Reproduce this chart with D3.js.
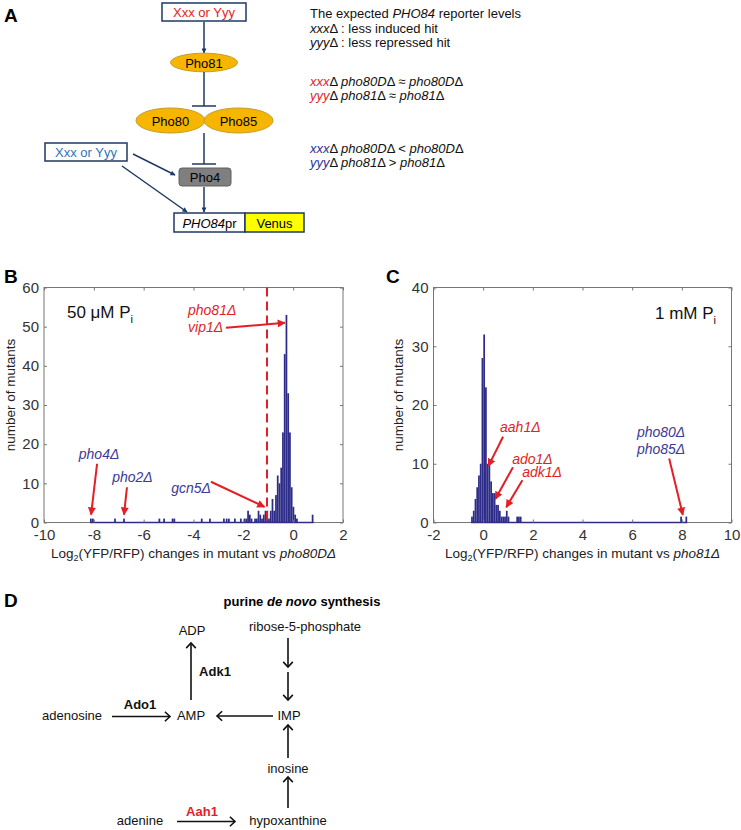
<!DOCTYPE html>
<html>
<head>
<meta charset="utf-8">
<script src="https://cdn.jsdelivr.net/npm/d3@7"></script>
<style>
  body { margin: 0; background: #fff; }
  text { font-family: "Liberation Sans", Arial, sans-serif; }
</style>
</head>
<body>
<script>
// ---- histogram data ----
let binW = 0.07;

// B: 50 uM Pi, log2 change vs pho80D
let bCenters = [-8.12, -8.04, -7.15, -6.79, -5.37, -5.18, -4.84, -4.77, -3.67, -3.34,
  -2.78, -2.67, -2.58, -2.34, -2.10, -1.95, -1.88, -1.81, -1.74, -1.67,
  -1.53, -1.46, -1.39, -1.32, -1.25, -1.18, -1.11, -1.04, -0.97, -0.90,
  -0.83, -0.76, -0.69, -0.62, -0.55, -0.48, -0.41, -0.34, -0.27, -0.20,
  -0.13, -0.06, 0.01, 0.08, 0.15, 0.78];
let bCounts = [1, 1, 1, 1, 1, 1, 1, 1, 1, 1,
  1, 1, 1, 1, 1, 1, 1, 3, 2, 1,
  1, 1, 3, 2, 1, 2, 3, 3, 1, 3,
  6, 3, 7, 12, 10, 14, 23, 43, 53, 33,
  23, 9, 4, 2, 1, 2];

// C: 1 mM Pi, log2 change vs pho81
let cCenters = [-0.45, -0.38, -0.31, -0.24, -0.17, -0.10, -0.03, 0.04, 0.11, 0.18,
  0.25, 0.32, 0.39, 0.46, 0.53, 0.60, 0.67, 0.74, 0.81, 0.88,
  0.95, 1.02, 1.37, 1.44, 1.51, 7.97, 8.18];
let cCounts = [1, 2, 4, 6, 8, 10, 28, 32, 23, 10,
  10, 7, 5, 5, 3, 3, 2, 1, 1, 1,
  2, 1, 1, 1, 1, 1, 1];

let bXTicks = [-10, -8, -6, -4, -2, 0, 2];
let bYTicks = [0, 10, 20, 30, 40, 50, 60];
let cXTicks = [-2, 0, 2, 4, 6, 8, 10];
let cYTicks = [0, 10, 20, 30, 40];
let cutoffB = -1.05;

// annotations: label lines, text position, arrow from -> to, in data units
let bNotes = [
  {lines: ["pho4Δ"], anchor: "middle", tx: -7.79, ty: 16.3, a: [-7.87, 15.0, -8.11, 2.0], color: "blue"},
  {lines: ["pho2Δ"], anchor: "middle", tx: -6.45, ty: 10.4, a: [-6.67, 9.0, -6.79, 2.0], color: "blue"},
  {lines: ["gcn5Δ"], anchor: "middle", tx: -4.10, ty: 7.6, a: [-3.30, 10.4, -1.15, 4.0], color: "blue"},
  {lines: ["pho81Δ", "vip1Δ"], anchor: "start", tx: -4.22, ty: 53.0, a: [-2.70, 49.7, -0.33, 51.0], color: "red"}
];
let cNotes = [
  {lines: ["aah1Δ"], anchor: "start", tx: 0.68, ty: 15.4, a: [0.80, 14.6, 0.21, 9.6], color: "red"},
  {lines: ["ado1Δ"], anchor: "start", tx: 1.17, ty: 10.0, a: [1.20, 9.4, 0.49, 4.0], color: "red"},
  {lines: ["adk1Δ"], anchor: "start", tx: 1.57, ty: 7.7, a: [1.58, 7.2, 0.93, 2.6], color: "red"},
  {lines: ["pho80Δ", "pho85Δ"], anchor: "start", tx: 6.19, ty: 14.6, a: [7.49, 10.9, 8.04, 1.3], color: "blue"}
];

let red = "#e31e25";
let barColor = "#2d2c88";
let labelBlue = "#3a3a98";
let navy = "#1f3864";

let svg = d3.select("body").append("svg")
  .attr("width", 741)
  .attr("height", 830);

let defs = svg.append("defs");
defs.append("marker").attr("id", "redhead")
  .attr("viewBox", "0 0 10 10").attr("refX", 9).attr("refY", 5)
  .attr("markerWidth", 9).attr("markerHeight", 8)
  .attr("markerUnits", "userSpaceOnUse").attr("orient", "auto")
  .append("path").attr("d", "M0,0L10,5L0,10z").attr("fill", red);
defs.append("marker").attr("id", "navyhead")
  .attr("viewBox", "0 0 10 10").attr("refX", 9).attr("refY", 5)
  .attr("markerWidth", 6).attr("markerHeight", 5)
  .attr("markerUnits", "userSpaceOnUse").attr("orient", "auto")
  .append("path").attr("d", "M0,0L10,5L0,10z").attr("fill", navy);

function panelLetter(t, x, y){
  svg.append("text").attr("x", x).attr("y", y).text(t)
    .attr("font-size", 19).attr("font-weight", "bold");
}

// ---------- histograms ----------
function hist(cfg){
  let g = svg.append("g");
  let x = d3.scaleLinear().domain(cfg.xd).range([cfg.left, cfg.right]);
  let y = d3.scaleLinear().domain(cfg.yd).range([522.5, 287.5]);
  let plain = (d) => String(d);   // hyphen minus like the original

  g.append("rect").attr("x", cfg.left).attr("y", y(cfg.yd[1]))
    .attr("width", cfg.right - cfg.left).attr("height", y(0) - y(cfg.yd[1]))
    .attr("fill", "none").attr("stroke", "#777").attr("stroke-width", 1);

  g.selectAll(".bar").data(cfg.centers).enter()
    .append("rect")
    .attr("class", "bar")
    .attr("x", (d) => x(d - binW / 2))
    .attr("width", x(binW) - x(0))
    .attr("y", (d, i) => y(cfg.counts[i]))
    .attr("height", (d, i) => y(0) - y(cfg.counts[i]))
    .attr("fill", barColor);

  // zero-count bins show as a line along the bottom
  g.append("line")
    .attr("x1", x(d3.min(cfg.centers) - binW / 2)).attr("x2", x(d3.max(cfg.centers) + binW / 2))
    .attr("y1", y(0)).attr("y2", y(0))
    .attr("stroke", barColor).attr("stroke-width", 1.5);

  let axes = [
    g.append("g").attr("transform", `translate(0,${y(0)})`)
      .call(d3.axisBottom(x).tickValues(cfg.xt).tickFormat(plain).tickSizeInner(-3).tickSizeOuter(0).tickPadding(7)),
    g.append("g").attr("transform", `translate(${cfg.left},0)`)
      .call(d3.axisLeft(y).tickValues(cfg.yt).tickFormat(plain).tickSizeInner(-3).tickSizeOuter(0).tickPadding(5)),
    g.append("g").attr("transform", `translate(0,${y(cfg.yd[1])})`)
      .call(d3.axisTop(x).tickValues(cfg.xt).tickSizeInner(-3).tickSizeOuter(0).tickFormat("")),
    g.append("g").attr("transform", `translate(${cfg.right},0)`)
      .call(d3.axisRight(y).tickValues(cfg.yt).tickSizeInner(-3).tickSizeOuter(0).tickFormat(""))
  ];
  axes.forEach((a) => {
    a.select(".domain").remove();
    a.selectAll("line").attr("stroke", "#777");
    a.selectAll("text").attr("font-size", 15).attr("fill", "#333")
      .attr("font-family", "Liberation Sans, Arial, sans-serif");
  });

  // y label
  g.append("text")
    .attr("transform", `translate(${cfg.ylabX},395) rotate(-90)`)
    .attr("text-anchor", "middle").attr("font-size", 13.5).attr("fill", "#222")
    .text("number of mutants");

  // x label
  let xl = g.append("text").attr("x", (cfg.left + cfg.right) / 2).attr("y", 558)
    .attr("text-anchor", "middle").attr("font-size", 13.5).attr("fill", "#222");
  xl.append("tspan").text("Log");
  xl.append("tspan").text("2").attr("font-size", 9).attr("dy", 3);
  xl.append("tspan").text("(YFP/RFP) changes in mutant vs ").attr("dy", -3);
  xl.append("tspan").text(cfg.ref).attr("font-style", "italic");

  // condition
  let ct = g.append("text").attr("x", x(cfg.cond[1])).attr("y", y(cfg.cond[2]))
    .attr("font-size", 17).attr("fill", "#111");
  ct.append("tspan").text(cfg.cond[0]);
  ct.append("tspan").text("i").attr("font-size", 11).attr("dy", 5);

  cfg.notes.forEach((n) => {
    let col = n.color == "red" ? red : labelBlue;
    n.lines.forEach((l, k) => {
      g.append("text").attr("x", x(n.tx)).attr("y", y(n.ty) + k * 17)
        .attr("text-anchor", n.anchor).attr("font-size", 14).attr("font-style", "italic")
        .attr("fill", col).text(l);
    });
    g.append("line")
      .attr("x1", x(n.a[0])).attr("y1", y(n.a[1]))
      .attr("x2", x(n.a[2])).attr("y2", y(n.a[3]))
      .attr("stroke", red).attr("stroke-width", 2)
      .attr("marker-end", "url(#redhead)");
  });

  return {g: g, x: x, y: y};
}

let hb = hist({
  xd: [-10, 2], yd: [0, 60], left: 44, right: 343,
  xt: bXTicks, yt: bYTicks, centers: bCenters, counts: bCounts,
  ylabX: 15, ref: "pho80DΔ", cond: ["50 μM P", -9.08, 52.3], notes: bNotes
});
hb.g.append("line")
  .attr("x1", hb.x(cutoffB)).attr("x2", hb.x(cutoffB))
  .attr("y1", hb.y(60)).attr("y2", hb.y(0))
  .attr("stroke", red).attr("stroke-width", 2).attr("stroke-dasharray", "9,5");

hist({
  xd: [-2, 10], yd: [0, 40], left: 433.5, right: 731.5,
  xt: cXTicks, yt: cYTicks, centers: cCenters, counts: cCounts,
  ylabX: 403, ref: "pho81Δ", cond: ["1 mM P", 6.92, 34.7], notes: cNotes
});

panelLetter("A", 4, 22);
panelLetter("B", 4, 283);
panelLetter("C", 386, 283);
panelLetter("D", 4, 607);

// ---------- panel A: pathway ----------
let a = svg.append("g");
function navyArrow(x1, y1, x2, y2){
  a.append("line").attr("x1", x1).attr("y1", y1).attr("x2", x2).attr("y2", y2)
    .attr("stroke", navy).attr("stroke-width", 1.5).attr("marker-end", "url(#navyhead)");
}
function bar(x, y1, y2){
  a.append("line").attr("x1", x).attr("y1", y1).attr("x2", x).attr("y2", y2)
    .attr("stroke", navy).attr("stroke-width", 1.5);
  a.append("line").attr("x1", x - 12).attr("y1", y2).attr("x2", x + 12).attr("y2", y2)
    .attr("stroke", navy).attr("stroke-width", 1.5);
}
function ell(cx, cy, rx, ry, t){
  a.append("ellipse").attr("cx", cx).attr("cy", cy).attr("rx", rx).attr("ry", ry)
    .attr("fill", "#f6b600").attr("stroke", "#c59a2a").attr("stroke-width", 1);
  a.append("text").attr("x", cx).attr("y", cy + 5).attr("text-anchor", "middle")
    .attr("font-size", 13).text(t);
}

a.append("rect").attr("x", 162).attr("y", 3).attr("width", 84).attr("height", 18)
  .attr("fill", "#fff").attr("stroke", navy).attr("stroke-width", 1.5);
a.append("text").attr("x", 204).attr("y", 17).attr("text-anchor", "middle")
  .attr("font-size", 13).attr("fill", red).text("Xxx or Yyy");
navyArrow(204, 22, 204, 53);
ell(204, 62.5, 33.5, 9.3, "Pho81");
bar(204, 72, 106);
ell(170.5, 120.5, 34.5, 12.5, "Pho80");
ell(238.5, 120.5, 34.5, 12.5, "Pho85");
bar(204, 133, 164);
a.append("rect").attr("x", 179).attr("y", 168).attr("width", 52).attr("height", 18).attr("rx", 3)
  .attr("fill", "#7f7f7f").attr("stroke", "#606060");
a.append("text").attr("x", 205).attr("y", 182).attr("text-anchor", "middle")
  .attr("font-size", 13).text("Pho4");
navyArrow(204, 187, 204, 212);

a.append("rect").attr("x", 45).attr("y", 143).attr("width", 82).attr("height", 18)
  .attr("fill", "#fff").attr("stroke", navy).attr("stroke-width", 1.5);
a.append("text").attr("x", 86).attr("y", 157).attr("text-anchor", "middle")
  .attr("font-size", 13).attr("fill", "#2e75b6").text("Xxx or Yyy");
navyArrow(133, 154, 175, 175);
navyArrow(122, 166, 187, 212);

a.append("rect").attr("x", 174).attr("y", 213).attr("width", 71).attr("height", 19)
  .attr("fill", "#fff").attr("stroke", navy).attr("stroke-width", 1.5);
a.append("rect").attr("x", 245).attr("y", 213).attr("width", 59).attr("height", 19)
  .attr("fill", "#ffff00").attr("stroke", navy).attr("stroke-width", 1.5);
let pt = a.append("text").attr("x", 209.5).attr("y", 227.5).attr("text-anchor", "middle").attr("font-size", 13);
pt.append("tspan").text("PHO84").attr("font-style", "italic");
pt.append("tspan").text("pr");
a.append("text").attr("x", 274.5).attr("y", 227.5).attr("text-anchor", "middle")
  .attr("font-size", 13).text("Venus");

// legend text at right of A
let blueTxt = "#2e3192";
let rows = [
  [18, [["The expected ", 0, "#111"], ["PHO84", 1, "#111"], [" reporter levels", 0, "#111"]]],
  [33, [["xxx", 1, "#111"], ["Δ : less induced hit", 0, "#111"]]],
  [47, [["yyy", 1, "#111"], ["Δ : less repressed hit", 0, "#111"]]],
  [86, [["xxx", 1, red], ["Δ ", 0, "#111"], ["pho80D", 1, "#111"], ["Δ ≈ ", 0, "#111"], ["pho80D", 1, "#111"], ["Δ", 0, "#111"]]],
  [100, [["yyy", 1, red], ["Δ ", 0, "#111"], ["pho81", 1, "#111"], ["Δ ≈ ", 0, "#111"], ["pho81", 1, "#111"], ["Δ", 0, "#111"]]],
  [153, [["xxx", 1, blueTxt], ["Δ ", 0, "#111"], ["pho80D", 1, "#111"], ["Δ < ", 0, "#111"], ["pho80D", 1, "#111"], ["Δ", 0, "#111"]]],
  [167, [["yyy", 1, blueTxt], ["Δ ", 0, "#111"], ["pho81", 1, "#111"], ["Δ > ", 0, "#111"], ["pho81", 1, "#111"], ["Δ", 0, "#111"]]]
];
rows.forEach((r) => {
  let t = a.append("text").attr("x", 310).attr("y", r[0]).attr("font-size", 13);
  r[1].forEach((p) => {
    t.append("tspan").text(p[0]).attr("fill", p[2])
      .attr("font-style", p[1] ? "italic" : "normal");
  });
});

// ---------- panel D: purine pathway ----------
let dd = svg.append("g");
function dArrow(x1, y1, x2, y2){
  dd.append("line").attr("x1", x1).attr("y1", y1).attr("x2", x2).attr("y2", y2)
    .attr("stroke", "#111").attr("stroke-width", 1.6);
  let ang = Math.atan2(y2 - y1, x2 - x1);
  let L = 7, W = 0.75;
  let p1 = [x2 - L * Math.cos(ang - W), y2 - L * Math.sin(ang - W)];
  let p2 = [x2 - L * Math.cos(ang + W), y2 - L * Math.sin(ang + W)];
  dd.append("path").attr("d", `M${p1}L${x2},${y2}L${p2}`)
    .attr("fill", "none").attr("stroke", "#111").attr("stroke-width", 1.6);
}
function dText(t, x, y, opt){
  let e = dd.append("text").attr("x", x).attr("y", y).attr("text-anchor", "middle")
    .attr("font-size", 13).attr("fill", "#111").text(t);
  if (opt == "b") e.attr("font-weight", "bold");
  if (opt == "r") e.attr("font-weight", "bold").attr("fill", red);
  return e;
}

let ht = dd.append("text").attr("x", 302).attr("y", 606).attr("text-anchor", "middle")
  .attr("font-size", 13).attr("font-weight", "bold");
ht.append("tspan").text("purine ");
ht.append("tspan").text("de novo").attr("font-style", "italic");
ht.append("tspan").text(" synthesis");

dText("ADP", 192, 635);
dText("ribose-5-phosphate", 305, 631);
dText("Adk1", 215, 676, "b");
dText("adenosine", 72, 720);
dText("Ado1", 140, 709, "b");
dText("AMP", 191, 720);
dText("IMP", 289, 720);
dText("inosine", 288, 773);
dText("adenine", 140, 825);
dText("Aah1", 202, 816, "r");
dText("hypoxanthine", 288, 825);

dArrow(191, 700, 191, 643);
dArrow(288, 638, 288, 667);
dArrow(288, 672, 288, 700);
dArrow(112, 716.5, 170, 716.5);
dArrow(273, 716, 217, 716);
dArrow(288, 758, 288, 725);
dArrow(288, 808, 288, 777);
dArrow(177, 821.5, 235, 821.5);
</script>
</body>
</html>
